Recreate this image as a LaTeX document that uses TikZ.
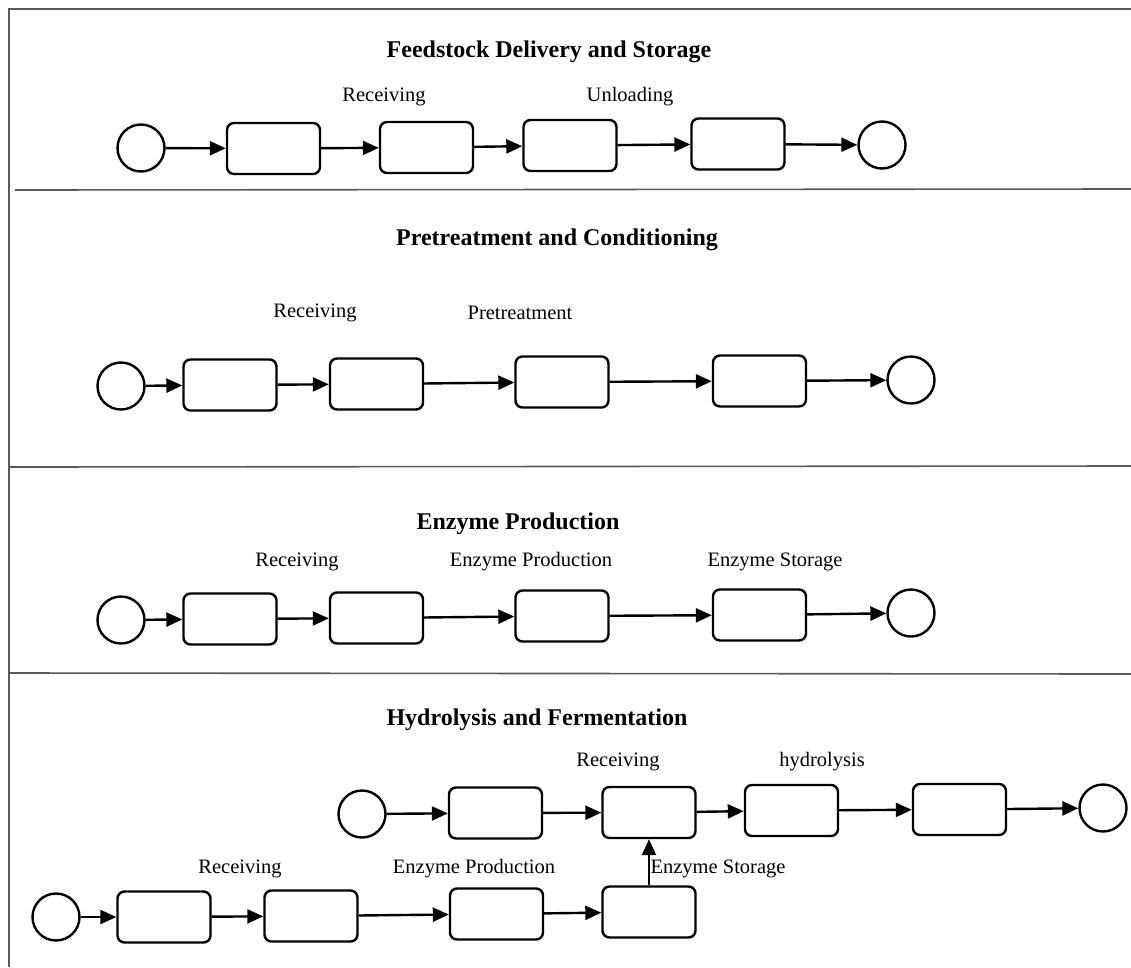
\documentclass[tikz,border=0pt]{standalone}
\usepackage{fontspec}
\setmainfont{Liberation Serif}
\usetikzlibrary{arrows.meta}
\begin{document}
\begin{tikzpicture}[x=1pt,y=-1pt,
  frame/.style={draw=black!65,line width=1.6pt},
  ev/.style={draw,circle,line width=2.4pt,minimum size=47pt,inner sep=0pt},
  task/.style={draw,rectangle,rounded corners=7pt,line width=2.4pt,minimum width=93pt,minimum height=51pt,inner sep=0pt},
  arr/.style={line width=2.4pt,-{Triangle[length=16pt,width=14pt]}},
  lbl/.style={font=\fontsize{20.5}{22}\selectfont,inner sep=0pt},
  ttl/.style={font=\fontsize{24}{26}\selectfont\bfseries,inner sep=0pt}]
\useasboundingbox (0,0) rectangle (1131,967);
% frame
\draw[frame] (1131,9) -- (9,9) -- (9,967);
\draw[frame] (15,190) -- (1131,189);
\draw[frame] (10,467) -- (1131,466);
\draw[frame] (10,673) -- (1131,674);

% Lane 1
\node[ttl] (t1) at (549,52) {Feedstock Delivery and Storage};
\node[lbl] (l11) at (384,97) {Receiving};
\node[lbl] (l12) at (630,97) {Unloading};
\node[ev] (s1) at (141,148) {};
\node[task] (a1) at (273.5,148.5) {};
\node[task] (a2) at (426.5,147.5) {};
\node[task] (a3) at (570,145.5) {};
\node[task] (a4) at (738,144) {};
\node[ev] (e1) at (882,145) {};
\draw[arr] (s1) -- (a1);
\draw[arr] (a1) -- (a2);
\draw[arr] (a2) -- (a3);
\draw[arr] (a3) -- (a4);
\draw[arr] (a4) -- (e1);

% Lane 2
\node[ttl] (t2) at (557,240) {Pretreatment and Conditioning};
\node[lbl] (l21) at (315,313) {Receiving};
\node[lbl] (l22) at (520,313) {Pretreatment};
\node[ev] (s2) at (121,386) {};
\node[task] (b1) at (230,385) {};
\node[task] (b2) at (376.5,384) {};
\node[task] (b3) at (562,382) {};
\node[task] (b4) at (759.5,381) {};
\node[ev] (e2) at (911,380) {};
\draw[arr] (s2) -- (b1);
\draw[arr] (b1) -- (b2);
\draw[arr] (b2) -- (b3);
\draw[arr] (b3) -- (b4);
\draw[arr] (b4) -- (e2);

% Lane 3
\node[ttl] (t3) at (518,524) {Enzyme Production};
\node[lbl] (l31) at (297,562) {Receiving};
\node[lbl] (l32) at (531,562) {Enzyme Production};
\node[lbl] (l33) at (775,562) {Enzyme Storage};
\node[ev] (s3) at (121,620) {};
\node[task] (c1) at (230,619) {};
\node[task] (c2) at (376.5,618) {};
\node[task] (c3) at (562,616) {};
\node[task] (c4) at (759.5,615) {};
\node[ev] (e3) at (911,613) {};
\draw[arr] (s3) -- (c1);
\draw[arr] (c1) -- (c2);
\draw[arr] (c2) -- (c3);
\draw[arr] (c3) -- (c4);
\draw[arr] (c4) -- (e3);

% Lane 4
\node[ttl] (t4) at (537,720) {Hydrolysis and Fermentation};
\node[lbl] (l41) at (618,762) {Receiving};
\node[lbl] (l42) at (822,762) {hydrolysis};
\node[lbl] (l43) at (240,869) {Receiving};
\node[lbl] (l44) at (474,869) {Enzyme Production};
\node[lbl] (l45) at (718,869) {Enzyme Storage};
\node[ev] (s4) at (362,814) {};
\node[task] (d1) at (495.5,813) {};
\node[task] (d2) at (649,812.5) {};
\node[task] (d3) at (791.5,810.5) {};
\node[task] (d4) at (959.5,809.5) {};
\node[ev] (e4) at (1103,808) {};
\draw[arr] (s4) -- (d1);
\draw[arr] (d1) -- (d2);
\draw[arr] (d2) -- (d3);
\draw[arr] (d3) -- (d4);
\draw[arr] (d4) -- (e4);
\node[ev] (s5) at (56,917) {};
\node[task] (f1) at (164,917) {};
\node[task] (f2) at (311,916) {};
\node[task] (f3) at (496.5,914) {};
\node[task] (f4) at (649,912) {};
\draw[arr] (s5) -- (f1);
\draw[arr] (f1) -- (f2);
\draw[arr] (f2) -- (f3);
\draw[arr] (f3) -- (f4);
\draw[arr] (f4.north) -- (d2.south);
\end{tikzpicture}
\end{document}
